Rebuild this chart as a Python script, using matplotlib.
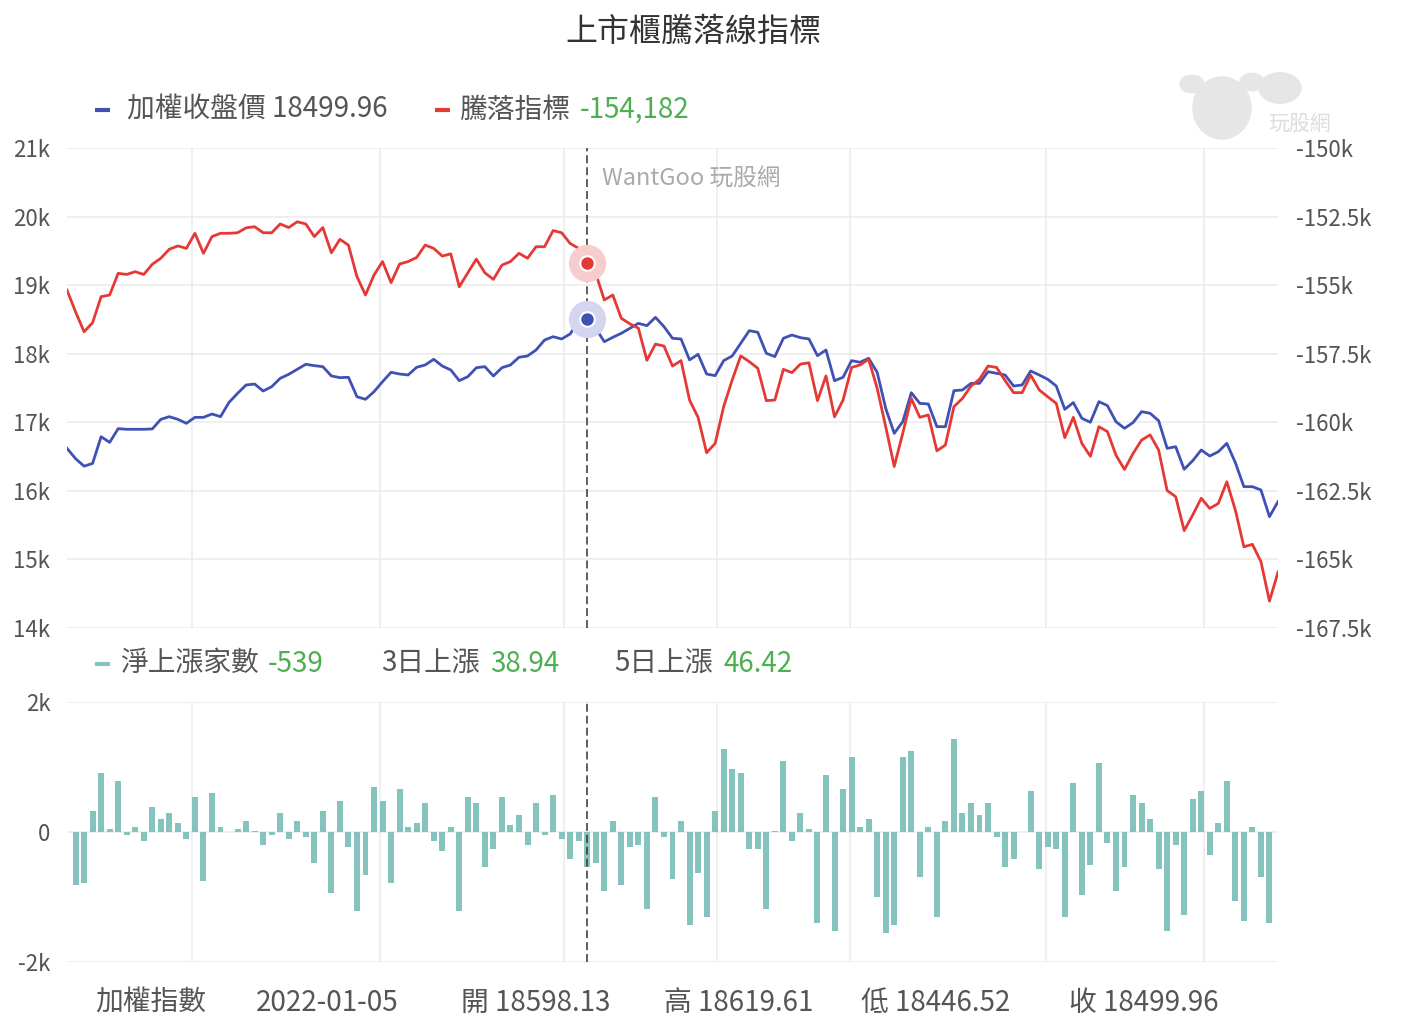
import numpy as np
import matplotlib
matplotlib.use("Agg")
import matplotlib.pyplot as plt
from matplotlib.lines import Line2D
from matplotlib.patches import Circle, Ellipse

plt.rcParams["font.family"] = ["Noto Sans CJK TC", "DejaVu Sans"]

# ---------------------------------------------------------------------------
# data, one value per trading day
# ---------------------------------------------------------------------------
taiex_close = [
    16620, 16470, 16360, 16400, 16790, 16707, 16907, 16898, 16898, 16898,
    16903, 17043, 17082, 17043, 16985, 17072, 17072, 17121, 17082, 17291,
    17422, 17544, 17558, 17456, 17519, 17641, 17700, 17773, 17846, 17826,
    17811, 17676, 17651, 17656, 17373, 17335, 17446, 17592, 17729, 17704,
    17690, 17802, 17836, 17919, 17821, 17763, 17607, 17665, 17796, 17811,
    17675, 17796, 17836, 17948, 17967, 18054, 18200, 18248, 18215, 18288,
    18480, 18499.96, 18370, 18175, 18239, 18298, 18370, 18443, 18409, 18531,
    18395, 18225, 18215, 17910, 17992, 17704, 17680, 17899, 17967, 18152,
    18336, 18312, 18006, 17958, 18225, 18273, 18234, 18215, 17971, 18054,
    17607, 17656, 17899, 17875, 17934, 17729, 17204, 16839, 17009, 17431,
    17276, 17267, 16936, 16936, 17461, 17471, 17568, 17568, 17738, 17714,
    17690, 17529, 17544, 17748, 17690, 17627, 17529, 17189, 17287, 17058,
    17000, 17301, 17243, 17009, 16912, 16995, 17155, 17131, 17024, 16620,
    16644, 16314, 16440, 16596, 16508, 16571, 16693, 16411, 16061, 16061,
    16013, 15624, 15843,
]

# advance/decline line, thousands
adl_k = [
    -155.18, -155.97, -156.70, -156.37, -155.42, -155.36, -154.57, -154.61, -154.51, -154.61,
    -154.24, -154.02, -153.69, -153.57, -153.66, -153.11, -153.84, -153.23, -153.11, -153.11,
    -153.09, -152.91, -152.87, -153.09, -153.09, -152.77, -152.90, -152.69, -152.77, -153.23,
    -152.90, -153.82, -153.33, -153.54, -154.69, -155.36, -154.63, -154.14, -154.91, -154.23,
    -154.14, -153.99, -153.54, -153.66, -153.94, -153.86, -155.06, -154.55, -154.05, -154.55,
    -154.79, -154.27, -154.14, -153.84, -154.02, -153.60, -153.60, -153.01, -153.09, -153.48,
    -153.66, -154.182, -154.57, -155.54, -155.36, -156.21, -156.41, -156.57, -157.74, -157.15,
    -157.22, -157.95, -157.75, -159.19, -159.82, -161.11, -160.77, -159.43, -158.46, -157.58,
    -157.79, -158.03, -159.21, -159.19, -158.07, -158.19, -157.88, -157.83, -159.21, -158.31,
    -159.80, -159.19, -158.00, -157.91, -157.70, -158.76, -160.16, -161.61, -160.40, -159.13,
    -159.82, -159.73, -161.04, -160.83, -159.43, -159.13, -158.68, -158.43, -157.95, -158.00,
    -158.48, -158.92, -158.92, -158.28, -158.82, -159.07, -159.31, -160.56, -159.82, -160.77,
    -161.24, -160.16, -160.34, -161.20, -161.72, -161.14, -160.65, -160.46, -161.01, -162.49,
    -162.71, -163.95, -163.38, -162.77, -163.14, -162.96, -162.17, -163.20, -164.54, -164.45,
    -165.08, -166.52, -165.46,
]

# net advancing issues
net_adv = [
    np.nan, -810, -780, 328, 913, 51, 790, -41, 82, -133,
    390, 205, 297, 144, -103, 544, -749, 605, 82, 0,
    51, 174, 20, -195, -41, 297, -103, 174, -72, -472,
    328, -933, 482, -226, -1210, -656, 697, 482, -780, 667,
    82, 144, 451, -133, -287, 82, -1210, 544, 451, -533,
    -256, 544, 113, 267, -195, 451, -41, 574, -103, -410,
    -133, -539, -472, -903, 174, -810, -226, -195, -1179, 544,
    -72, -718, 174, -1426, -626, -1303, 328, 1282, 974, 913,
    -256, -256, -1179, 20, 1097, -133, 297, 51, -1395, 882,
    -1518, 667, 1159, 82, 205, -995, -1549, -1426, 1159, 1251,
    -687, 82, -1303, 174, 1436, 297, 451, 267, 451, -72,
    -533, -410, 0, 636, -564, -226, -256, -1303, 759, -964,
    -503, 1067, -164, -903, -533, 574, 451, 205, -564, -1518,
    -195, -1272, 513, 636, -349, 144, 790, -1056, -1364, 82,
    -687, -1395, np.nan,
]

month_lines = [14.66, 36.70, 58.28, 76.22, 91.82, 114.80, 133.33]
cursor = 61  # 2022-01-05

left_ticks = [14000, 15000, 16000, 17000, 18000, 19000, 20000, 21000]
right_ticks = [-167.5, -165, -162.5, -160, -157.5, -155, -152.5, -150]
bar_ticks = [-2000, 0, 2000]

info_row = ["加權指數", "2022-01-05", "開 18598.13", "高 18619.61", "低 18446.52", "收 18499.96"]

BLUE = "#3f51b5"
RED = "#e53935"
TEAL = "#84c3be"
GREEN = "#4caf50"
GRAY = "#555555"
GRID = "#ececec"

x = np.arange(len(taiex_close))
n = len(x)

W, H = 1412, 1026
FS = 20      # legend / info text
TICK_FS = 16


def rect(l, t, r, b):
    return [l / W, 1 - b / H, (r - l) / W, (b - t) / H]


def ftext(px, py, s, **kw):
    kw.setdefault("va", "center")
    kw.setdefault("ha", "left")
    fig.text(px / W, 1 - py / H, s, **kw)


def fmark(px, py, color):
    fig.add_artist(Line2D([px / W, (px + 15) / W], [1 - py / H, 1 - py / H],
                          transform=fig.transFigure, color=color, lw=3,
                          solid_capstyle="butt"))


fig = plt.figure(figsize=(W / 100, H / 100), dpi=100)

# ---------------------------------------------------------------------------
# top panel: TAIEX close + advance/decline line
# ---------------------------------------------------------------------------
ax = fig.add_axes(rect(67, 148, 1278, 628))
ax.set_xlim(0, n - 1)
ax.set_ylim(14000, 21000)
ax.set_yticks(left_ticks)
ax.set_yticklabels([f"{v // 1000}k" for v in left_ticks])
ax.set_xticks(month_lines)
ax.set_xticklabels([])
ax.grid(True, color=GRID, lw=1.2)
ax.tick_params(length=0, labelsize=TICK_FS, labelcolor=GRAY, pad=12)
for s in ax.spines.values():
    s.set_visible(False)
ax.plot(x, taiex_close, color=BLUE, lw=2, zorder=3)
ax.axvline(cursor, color="#333333", lw=1.1, dashes=(5.2, 2.6), zorder=2)

ax2 = ax.twinx()
ax2.set_xlim(0, n - 1)
ax2.set_ylim(-167.5, -150)
ax2.set_yticks(right_ticks)
ax2.set_yticklabels([f"{v:g}k" for v in right_ticks])
ax2.tick_params(length=0, labelsize=TICK_FS, labelcolor=GRAY, pad=13)
for s in ax2.spines.values():
    s.set_visible(False)
ax2.plot(x, adl_k, color=RED, lw=2, zorder=3)

# highlighted points at the cursor
ax.scatter([cursor], [taiex_close[cursor]], s=720, color="#d3d6ee", zorder=4, lw=0)
ax.scatter([cursor], [taiex_close[cursor]], s=110, color=BLUE, edgecolor="white",
           lw=1.5, zorder=5)
ax2.scatter([cursor], [adl_k[cursor]], s=720, color="#f6cccc", zorder=4, lw=0)
ax2.scatter([cursor], [adl_k[cursor]], s=110, color=RED, edgecolor="white",
            lw=1.5, zorder=5)

# ---------------------------------------------------------------------------
# bottom panel: net advancing issues
# ---------------------------------------------------------------------------
axb = fig.add_axes(rect(67, 702, 1278, 962))
axb.set_xlim(0, n - 1)
axb.set_ylim(-2000, 2000)
axb.set_yticks(bar_ticks)
axb.set_yticklabels(["-2k", "0", "2k"])
axb.set_xticks(month_lines)
axb.set_xticklabels([])
axb.grid(True, color=GRID, lw=1.2)
axb.set_axisbelow(True)
axb.tick_params(length=0, labelsize=TICK_FS, labelcolor=GRAY, pad=12)
for s in axb.spines.values():
    s.set_visible(False)
axb.bar(x, net_adv, width=0.7, color=TEAL, zorder=2)
axb.axvline(cursor, color="#333333", lw=1.1, dashes=(5.2, 2.6), zorder=3)

# ---------------------------------------------------------------------------
# titles, legends, watermark
# ---------------------------------------------------------------------------
ftext(693, 32, "上市櫃騰落線指標", ha="center", fontsize=23, color="#333333")

fmark(95, 110, BLUE)
ftext(127, 110, f"加權收盤價 {taiex_close[cursor]:.2f}", fontsize=FS, color=GRAY)
fmark(435, 110, RED)
ftext(460, 110, "騰落指標", fontsize=FS, color=GRAY)
ftext(580, 110, f"{adl_k[cursor] * 1000:,.0f}", fontsize=FS, color=GREEN)

fmark(95, 664, TEAL)
ftext(120, 664, "淨上漲家數", fontsize=FS, color=GRAY)
ftext(268, 664, f"{net_adv[cursor]:.0f}", fontsize=FS, color=GREEN)
ftext(381, 664, "3日上漲", fontsize=FS, color=GRAY)
ftext(490, 664, "38.94", fontsize=FS, color=GREEN)
ftext(614, 664, "5日上漲", fontsize=FS, color=GRAY)
ftext(723, 664, "46.42", fontsize=FS, color=GREEN)

for px, s in zip([95, 256, 461, 664, 861, 1069], info_row):
    ftext(px, 1003, s, fontsize=FS, color=GRAY)

ftext(602, 178, "WantGoo 玩股網", fontsize=17, color="#aaaaaa")

# faint logo, top right
LOGO = "#e6e6e6"
fig.add_artist(Ellipse((1222 / W, 1 - 108 / H), 58 / W, 62 / H,
                       transform=fig.transFigure, color=LOGO, zorder=0))
for cx, cy, r in [(1192, 84, 12), (1252, 82, 12), (1280, 88, 21)]:
    fig.add_artist(Circle((cx / W, 1 - cy / H), r / W, transform=fig.transFigure,
                          color=LOGO, zorder=0))
ftext(1300, 124, "玩股網", ha="center", fontsize=15, color="#dddddd")

fig.savefig("out.png", dpi=100)
